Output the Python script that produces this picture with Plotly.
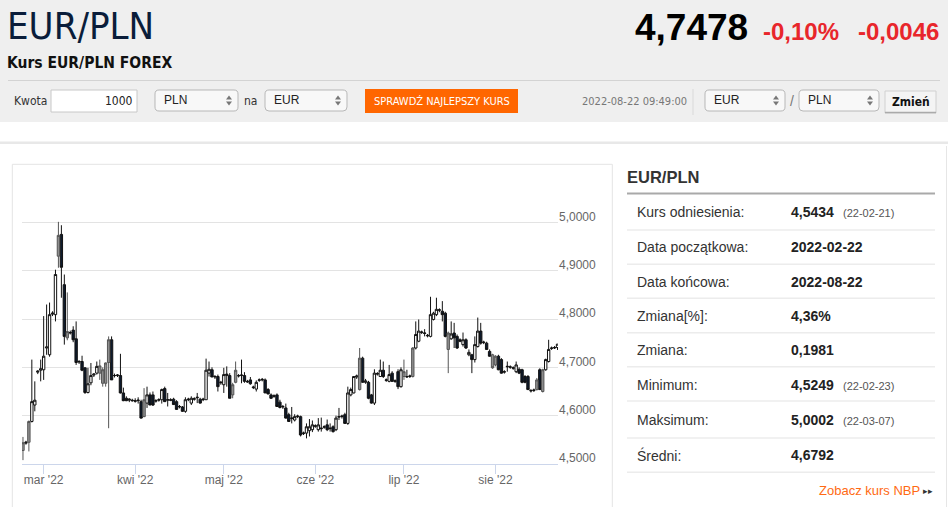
import pandas as pd
import plotly.graph_objects as go

# EUR/PLN daily candles, 2022-02-22 .. 2022-08-22 (one per calendar day)
dates = pd.date_range("2022-02-22", "2022-08-22", freq="D")

open_ = [4.528, 4.543, 4.545, 4.588, 4.622, 4.690, 4.694, 4.695, 4.740, 4.726,
         4.810, 4.809, 4.930, 4.975, 4.871, 4.761, 4.771, 4.777, 4.759, 4.711,
         4.712, 4.699, 4.648, 4.668, 4.684, 4.688, 4.688, 4.667, 4.667, 4.710,
         4.757, 4.683, 4.683, 4.683, 4.647, 4.636, 4.632, 4.632, 4.631, 4.631,
         4.629, 4.598, 4.626, 4.643, 4.643, 4.630, 4.632, 4.633, 4.656, 4.632,
         4.633, 4.634, 4.629, 4.618, 4.618, 4.609, 4.633, 4.626, 4.634, 4.637,
         4.634, 4.633, 4.633, 4.688, 4.695, 4.680, 4.681, 4.668, 4.664, 4.683,
         4.683, 4.643, 4.669, 4.682, 4.683, 4.683, 4.671, 4.674, 4.658, 4.655,
         4.673, 4.674, 4.674, 4.654, 4.643, 4.640, 4.643, 4.628, 4.618, 4.616,
         4.602, 4.594, 4.591, 4.598, 4.598, 4.563, 4.564, 4.569, 4.571, 4.578,
         4.571, 4.573, 4.576, 4.581, 4.573, 4.577, 4.571, 4.597, 4.598, 4.602,
         4.584, 4.643, 4.647, 4.680, 4.654, 4.719, 4.669, 4.669, 4.643, 4.626,
         4.686, 4.681, 4.694, 4.673, 4.671, 4.688, 4.671, 4.691, 4.660, 4.681,
         4.680, 4.681, 4.681, 4.740, 4.754, 4.772, 4.770, 4.765, 4.764, 4.799,
         4.809, 4.818, 4.816, 4.812, 4.737, 4.759, 4.771, 4.764, 4.757, 4.747,
         4.757, 4.726, 4.726, 4.716, 4.743, 4.775, 4.751, 4.750, 4.733, 4.726,
         4.705, 4.723, 4.716, 4.690, 4.701, 4.700, 4.698, 4.691, 4.696, 4.695,
         4.681, 4.681, 4.651, 4.652, 4.654, 4.695, 4.650, 4.695, 4.712, 4.739,
         4.740, 4.741]

high = [4.556, 4.548, 4.590, 4.716, 4.671, 4.694, 4.716, 4.806, 4.830, 4.834,
        4.816, 4.902, 5.001, 4.994, 4.892, 4.855, 4.776, 4.785, 4.795, 4.715,
        4.724, 4.700, 4.699, 4.709, 4.688, 4.712, 4.716, 4.700, 4.710, 4.764,
        4.764, 4.687, 4.686, 4.728, 4.658, 4.640, 4.636, 4.635, 4.636, 4.638,
        4.633, 4.657, 4.660, 4.648, 4.650, 4.634, 4.636, 4.656, 4.660, 4.647,
        4.636, 4.637, 4.632, 4.622, 4.620, 4.638, 4.637, 4.640, 4.638, 4.647,
        4.637, 4.637, 4.718, 4.712, 4.700, 4.684, 4.685, 4.672, 4.699, 4.702,
        4.688, 4.668, 4.712, 4.686, 4.716, 4.690, 4.674, 4.680, 4.662, 4.673,
        4.677, 4.678, 4.677, 4.657, 4.646, 4.644, 4.646, 4.633, 4.622, 4.625,
        4.606, 4.618, 4.603, 4.602, 4.600, 4.567, 4.584, 4.593, 4.590, 4.582,
        4.595, 4.596, 4.580, 4.592, 4.584, 4.580, 4.600, 4.616, 4.602, 4.606,
        4.660, 4.658, 4.681, 4.685, 4.740, 4.722, 4.676, 4.672, 4.645, 4.696,
        4.690, 4.716, 4.712, 4.677, 4.705, 4.692, 4.675, 4.696, 4.700, 4.716,
        4.695, 4.685, 4.742, 4.795, 4.799, 4.776, 4.779, 4.769, 4.846, 4.815,
        4.844, 4.822, 4.837, 4.815, 4.774, 4.795, 4.792, 4.768, 4.760, 4.772,
        4.760, 4.737, 4.728, 4.764, 4.803, 4.792, 4.755, 4.753, 4.737, 4.728,
        4.725, 4.726, 4.719, 4.694, 4.712, 4.704, 4.702, 4.712, 4.700, 4.697,
        4.684, 4.684, 4.655, 4.656, 4.678, 4.698, 4.697, 4.718, 4.757, 4.743,
        4.744, 4.748]

low = [4.508, 4.540, 4.526, 4.586, 4.609, 4.686, 4.671, 4.674, 4.726, 4.722,
       4.806, 4.795, 4.906, 4.844, 4.747, 4.756, 4.768, 4.752, 4.705, 4.707,
       4.692, 4.645, 4.646, 4.663, 4.680, 4.685, 4.674, 4.660, 4.660, 4.574,
       4.674, 4.679, 4.680, 4.646, 4.630, 4.630, 4.628, 4.629, 4.627, 4.625,
       4.594, 4.597, 4.616, 4.622, 4.620, 4.627, 4.629, 4.625, 4.629, 4.619,
       4.630, 4.622, 4.612, 4.615, 4.608, 4.606, 4.630, 4.622, 4.631, 4.626,
       4.625, 4.630, 4.633, 4.681, 4.680, 4.676, 4.650, 4.664, 4.647, 4.660,
       4.636, 4.636, 4.667, 4.679, 4.667, 4.668, 4.668, 4.664, 4.655, 4.650,
       4.670, 4.671, 4.647, 4.644, 4.635, 4.637, 4.618, 4.615, 4.614, 4.594,
       4.587, 4.584, 4.588, 4.595, 4.557, 4.560, 4.553, 4.557, 4.566, 4.575,
       4.567, 4.567, 4.573, 4.568, 4.567, 4.565, 4.568, 4.591, 4.594, 4.583,
       4.581, 4.640, 4.646, 4.676, 4.652, 4.668, 4.666, 4.634, 4.625, 4.622,
       4.683, 4.680, 4.678, 4.670, 4.669, 4.670, 4.668, 4.655, 4.658, 4.674,
       4.678, 4.678, 4.679, 4.737, 4.752, 4.769, 4.764, 4.762, 4.762, 4.797,
       4.806, 4.814, 4.795, 4.762, 4.688, 4.757, 4.740, 4.738, 4.752, 4.743,
       4.738, 4.723, 4.688, 4.710, 4.741, 4.747, 4.748, 4.736, 4.722, 4.697,
       4.702, 4.694, 4.687, 4.687, 4.691, 4.697, 4.695, 4.688, 4.686, 4.667,
       4.667, 4.653, 4.648, 4.649, 4.652, 4.653, 4.648, 4.693, 4.710, 4.736,
       4.738, 4.736]

close = [4.544, 4.545, 4.588, 4.629, 4.632, 4.692, 4.697, 4.723, 4.742, 4.809,
         4.812, 4.892, 4.973, 4.907, 4.764, 4.774, 4.772, 4.757, 4.710, 4.712,
         4.694, 4.648, 4.666, 4.683, 4.686, 4.702, 4.703, 4.695, 4.709, 4.757,
         4.674, 4.683, 4.684, 4.647, 4.631, 4.631, 4.634, 4.631, 4.630, 4.632,
         4.595, 4.633, 4.643, 4.622, 4.622, 4.631, 4.633, 4.654, 4.629, 4.633,
         4.632, 4.623, 4.613, 4.619, 4.609, 4.633, 4.634, 4.636, 4.635, 4.638,
         4.626, 4.634, 4.694, 4.696, 4.680, 4.681, 4.660, 4.669, 4.685, 4.686,
         4.636, 4.664, 4.694, 4.683, 4.684, 4.671, 4.670, 4.666, 4.659, 4.669,
         4.674, 4.675, 4.647, 4.645, 4.636, 4.641, 4.619, 4.617, 4.619, 4.595,
         4.588, 4.595, 4.598, 4.599, 4.560, 4.564, 4.577, 4.577, 4.581, 4.579,
         4.581, 4.574, 4.577, 4.571, 4.574, 4.567, 4.595, 4.598, 4.599, 4.584,
         4.647, 4.654, 4.681, 4.682, 4.719, 4.669, 4.672, 4.636, 4.626, 4.688,
         4.687, 4.694, 4.681, 4.674, 4.685, 4.671, 4.672, 4.660, 4.695, 4.691,
         4.681, 4.682, 4.740, 4.768, 4.775, 4.773, 4.771, 4.766, 4.809, 4.812,
         4.820, 4.819, 4.809, 4.764, 4.771, 4.769, 4.761, 4.740, 4.754, 4.757,
         4.740, 4.731, 4.716, 4.747, 4.775, 4.750, 4.752, 4.737, 4.723, 4.699,
         4.723, 4.695, 4.688, 4.691, 4.702, 4.701, 4.699, 4.705, 4.688, 4.669,
         4.669, 4.654, 4.652, 4.653, 4.674, 4.654, 4.695, 4.716, 4.737, 4.740,
         4.741, 4.748]

# candles drawn with a grey body in the original
gray_days = ["2022-02-22", "2022-02-24", "2022-03-06", "2022-03-09", "2022-03-20",
             "2022-03-21", "2022-03-22", "2022-03-23", "2022-04-04", "2022-05-04",
             "2022-05-05", "2022-06-16", "2022-07-01", "2022-07-04", "2022-07-16",
             "2022-07-31", "2022-08-01", "2022-08-15", "2022-08-17"]

month_ticks = ["2022-03-01", "2022-04-01", "2022-05-01", "2022-06-01", "2022-07-01", "2022-08-01"]
month_labels = ["mar '22", "kwi '22", "maj '22", "cze '22", "lip '22", "sie '22"]
y_ticks = [4.5, 4.6, 4.7, 4.8, 4.9, 5.0, 5.1]
y_labels = ["4,5000", "4,6000", "4,7000", "4,8000", "4,9000", "5,0000", ""]

stats_labels = ["Kurs odniesienia:", "Data początkowa:", "Data końcowa:", "Zmiana[%]:",
                "Zmiana:", "Minimum:", "Maksimum:", "Średni:"]
stats_values = ["4,5434", "2022-02-22", "2022-08-22", "4,36%", "0,1981", "4,5249", "5,0002", "4,6792"]
stats_dates = ["(22-02-21)", "", "", "", "", "(22-02-23)", "(22-03-07)", ""]

df = pd.DataFrame({"date": dates, "open": open_, "high": high, "low": low, "close": close})
is_gray = df["date"].isin(pd.to_datetime(gray_days))

W, H = 948, 507
L, T, PW, PH = 22, 174, 536, 290
FONT = "Liberation Sans, Arial, sans-serif"
NARROW = "DejaVu Sans Condensed, Liberation Sans Narrow, Arial Narrow, sans-serif"


def X(p):
    return (p - L) / PW


def Y(p):
    return (T + PH - p) / PH


shapes = []
annotations = []


def rect(x0, y0, x1, y1, fill, line=None, lw=1):
    shapes.append(dict(type="rect", xref="paper", yref="paper", layer="below",
                       x0=X(x0), x1=X(x1), y0=Y(y1), y1=Y(y0), fillcolor=fill,
                       line=dict(color=line or fill, width=lw if line else 0)))


def hline(x0, x1, y, color, lw=1):
    shapes.append(dict(type="line", xref="paper", yref="paper", x0=X(x0), x1=X(x1),
                       y0=Y(y), y1=Y(y), line=dict(color=color, width=lw)))


def vline(x, y0, y1, color, lw=1):
    shapes.append(dict(type="line", xref="paper", yref="paper", x0=X(x), x1=X(x),
                       y0=Y(y0), y1=Y(y1), line=dict(color=color, width=lw)))


def rrect(x0, y0, x1, y1, r, fill, line):
    p = lambda x, y: f"{X(x):.5f},{Y(y):.5f}"
    path = (f"M {p(x0 + r, y0)} L {p(x1 - r, y0)} Q {p(x1, y0)} {p(x1, y0 + r)} "
            f"L {p(x1, y1 - r)} Q {p(x1, y1)} {p(x1 - r, y1)} L {p(x0 + r, y1)} "
            f"Q {p(x0, y1)} {p(x0, y1 - r)} L {p(x0, y0 + r)} Q {p(x0, y0)} {p(x0 + r, y0)} Z")
    shapes.append(dict(type="path", xref="paper", yref="paper", path=path,
                       fillcolor=fill, line=dict(color=line, width=1)))


def arrows(cx, cy):
    p = lambda x, y: f"{X(x):.5f},{Y(y):.5f}"
    up = f"M {p(cx - 3, cy - 1)} L {p(cx + 3, cy - 1)} L {p(cx, cy - 5)} Z"
    dn = f"M {p(cx - 3, cy + 1)} L {p(cx + 3, cy + 1)} L {p(cx, cy + 5)} Z"
    for path in (up, dn):
        shapes.append(dict(type="path", xref="paper", yref="paper", path=path,
                           fillcolor="#777", line=dict(width=0)))


def select(x0, x1, label):
    rrect(x0, 90, x1, 111, 4, "#f8f8f8", "#b8b8b8")
    text(x0 + 7, 100, label, 12, "#222")
    arrows(x1 - 9, 100.5)


def text(x, y, s, size, color, anchor="left", family=FONT):
    annotations.append(dict(text=s, x=X(x), y=Y(y), xref="paper", yref="paper",
                            xanchor=anchor, yanchor="middle", showarrow=False,
                            font=dict(size=size, color=color, family=family)))


# page header
rect(0, 0, W, 122, "#efefef")
hline(8, 940, 80.5, "#d3d3d3")
rect(0, 141.5, W, 144, "#e8e8e8")
text(5, 26, "EUR/PLN", 38, "#0a1d3a", family=NARROW)
text(5, 63, "<b>Kurs EUR/PLN FOREX</b>", 15.5, "#111", family=NARROW)
text(750, 27, "<b>4,7478</b>", 37, "#000", anchor="right")
text(761, 31, "<b>-0,10%</b>", 24, "#e8262b")
text(941, 31, "<b>-0,0046</b>", 24, "#e8262b", anchor="right")

# converter form
text(12, 101, "Kwota", 12, "#333", family=NARROW)
rect(51, 90, 137, 112, "#ffffff", "#c8c8c8")
text(135, 101, "1000", 12, "#222", anchor="right", family=NARROW)
select(155, 238, "PLN")
text(242, 101, "na", 12, "#333", family=NARROW)
select(265, 347, "EUR")
rect(365, 89, 518, 113, "#ff6600")
text(441.5, 101, "SPRAWDŹ NAJLEPSZY KURS", 11, "#ffffff", anchor="center", family=NARROW)
text(580, 102, "2022-08-22 09:49:00", 11, "#777", family=NARROW)
vline(693, 89, 115, "#d9d9d9")
select(705, 785, "EUR")
text(792, 101, "/", 14, "#777", anchor="center")
select(799, 879, "PLN")
rect(885, 91, 936, 113, "#f4f4f4", "#d0d0d0")
hline(885, 936, 112.5, "#aaaaaa", 1.5)
text(910.5, 102, "<b>Zmień</b>", 12, "#111", anchor="center", family=NARROW)

# chart frame and right border
rect(12.3, 164.3, 612.3, 520, "rgba(0,0,0,0)", "#e4e4e4")
vline(946.5, 146, 507, "#e6e6e6")

# statistics panel
text(625, 177, "<b>EUR/PLN</b>", 16.5, "#333")
hline(627, 935, 193.5, "#a9a9a9", 2)
row_y = [212.3, 247.3, 281.7, 315.7, 350, 385, 420, 455]
sep_y = [230, 264.3, 298.3, 332.7, 366.7, 401, 438, 472.3]
for i, lab in enumerate(stats_labels):
    text(634.5, row_y[i], lab, 14, "#333")
    text(789, row_y[i], f"<b>{stats_values[i]}</b>", 14, "#222")
    if stats_dates[i]:
        text(840.5, row_y[i] + 1, stats_dates[i], 11, "#555")
    hline(627, 935, sep_y[i], "#ececec", 1.5)
text(922, 490, "Zobacz kurs NBP", 13, "#ff6a13", anchor="right")
text(935, 490.5, "▸▸", 9, "#333", anchor="right")

fig = go.Figure()
main = df[~is_gray]
grey = df[is_gray]
fig.add_trace(go.Candlestick(
    x=main["date"], open=main["open"], high=main["high"], low=main["low"], close=main["close"],
    increasing=dict(fillcolor="#ffffff", line=dict(color="#111111", width=1)),
    decreasing=dict(fillcolor="#0e1a2c", line=dict(color="#111111", width=1)),
    whiskerwidth=0, showlegend=False, hoverinfo="skip"))
fig.add_trace(go.Candlestick(
    x=grey["date"], open=grey["open"], high=grey["high"], low=grey["low"], close=grey["close"],
    increasing=dict(fillcolor="#8e8e8e", line=dict(color="#555555", width=1)),
    decreasing=dict(fillcolor="#8e8e8e", line=dict(color="#555555", width=1)),
    whiskerwidth=0, showlegend=False, hoverinfo="skip"))

fig.update_layout(
    width=W, height=H,
    margin=dict(l=L, r=W - L - PW, t=T, b=H - T - PH),
    paper_bgcolor="#ffffff", plot_bgcolor="#ffffff",
    font=dict(family=FONT, color="#666"),
    boxgap=0.2, boxgroupgap=0,
    shapes=shapes, annotations=annotations,
    xaxis=dict(
        type="date", range=["2022-02-21 16:00", "2022-08-22 04:00"],
        rangeslider=dict(visible=False),
        tickvals=month_ticks, ticktext=month_labels,
        tickfont=dict(size=12, color="#666"),
        showgrid=False, showline=True, linecolor="#ccd6eb", linewidth=1,
        ticks="outside", ticklen=9, tickcolor="#ccd6eb", zeroline=False,
        ticklabelstandoff=-4,
    ),
    yaxis=dict(
        side="right", range=[4.5, 5.1],
        tickvals=y_ticks, ticktext=y_labels,
        tickfont=dict(size=12, color="#666"),
        showgrid=True, gridcolor="#e3e3e3", gridwidth=1,
        ticks="", zeroline=False, showline=False,
        ticklabelshift=-6, ticklabelstandoff=0,
    ),
)

# the page body has a default 8px margin; remove it so the figure fills the window
fig.write_html("out.html", config={"displayModeBar": False},
               post_script="document.body.style.margin='0px';")
